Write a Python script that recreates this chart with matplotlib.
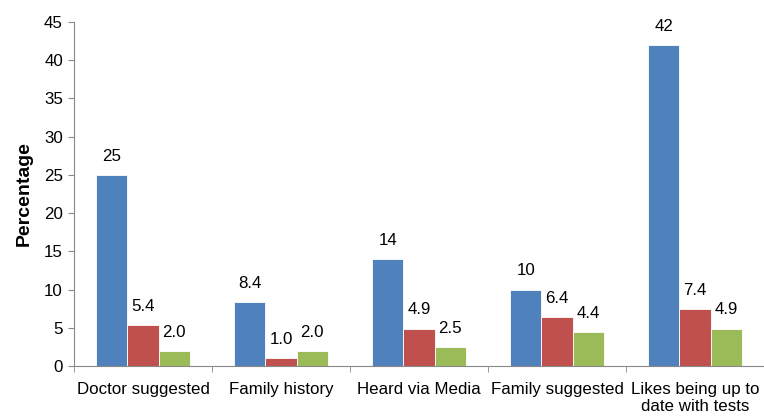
import matplotlib
matplotlib.use("Agg")
import matplotlib.pyplot as plt
import numpy as np

categories = ["Doctor suggested", "Family history", "Heard via Media", "Family suggested", "Likes being up to\ndate with tests"]
blue_vals = [25, 8.4, 14, 10, 42]
red_vals = [5.4, 1.0, 4.9, 6.4, 7.4]
green_vals = [2.0, 2.0, 2.5, 4.4, 4.9]
blue_labels = ["25", "8.4", "14", "10", "42"]
red_labels = ["5.4", "1.0", "4.9", "6.4", "7.4"]
green_labels = ["2.0", "2.0", "2.5", "4.4", "4.9"]

plt.rcParams['font.family'] = ['Liberation Sans', 'DejaVu Sans']

fig = plt.figure(figsize=(7.64, 4.16), dpi=100)
ax = fig.add_axes([74/764, 1-366/416, 1-74/764, (366-22)/416])

x = np.arange(len(categories))
w = 0.225
cols = ["#4F81BD", "#C0504D", "#9BBB59"]
for i, (vals, labs) in enumerate([(blue_vals, blue_labels), (red_vals, red_labels), (green_vals, green_labels)]):
    bars = ax.bar(x + (i-1)*w, vals, w, color=cols[i], edgecolor="white", linewidth=0.6)
    for b, l in zip(bars, labs):
        ax.annotate(l, (b.get_x()+b.get_width()/2, b.get_height()), xytext=(0, 8),
                    textcoords="offset points", ha="center", va="bottom", fontsize=12.2)

ax.set_xlim(-0.5, len(categories)-0.5)
ax.set_ylim(0, 45)
ax.set_yticks(np.arange(0, 46, 5))
ax.set_xticks(x)
ax.set_xticklabels(categories, fontsize=12.2, va="top", linespacing=1.15)
ax.set_xticks(np.arange(-0.5, len(categories), 1), minor=True)
ax.tick_params(axis='x', which='major', length=0, pad=11.5)
ax.tick_params(axis='x', which='minor', length=4, color="#888888", direction="out")
ax.tick_params(axis='y', length=4, color="#888888", labelsize=12.2, pad=4)
for s in ["top", "right"]:
    ax.spines[s].set_visible(False)
for s in ["left", "bottom"]:
    ax.spines[s].set_color("#888888")
ax.set_ylabel("Percentage", fontsize=14, fontweight="bold", labelpad=8)

fig.savefig("out.png", dpi=100)
